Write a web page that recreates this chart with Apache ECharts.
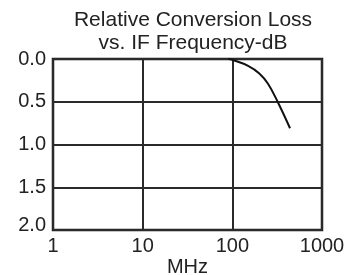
<!DOCTYPE html>
<html><head><meta charset="utf-8">
<script src="https://cdn.jsdelivr.net/npm/echarts@6/dist/echarts.min.js"></script>
<style>html,body{margin:0;padding:0;background:#fff}#c{width:348px;height:275px}</style>
</head><body><div id="c"></div>
<script>
const titleLines = ['Relative Conversion Loss', 'vs. IF Frequency-dB'];
const xTicks = [1, 10, 100, 1000];
const yTicks = [0.0, 0.5, 1.0, 1.5, 2.0];
const freqMHz = [90, 100, 150, 200, 250, 320, 440];
const lossDb = [0.0, 0.01, 0.08, 0.17, 0.29, 0.5, 0.81];
const xName = 'MHz';

const chart = echarts.init(document.getElementById('c'), null, {renderer: 'canvas'});
const font = 'Liberation Sans, Arial, Helvetica, sans-serif';
chart.setOption({
  animation: false,
  title: {
    text: titleLines.join('\n'),
    left: 188, top: 4, textAlign: 'center',
    textStyle: {fontFamily: font, fontSize: 21, fontWeight: 'normal', color: '#222', lineHeight: 23}
  },
  grid: {left: 53, top: 59, right: 26, bottom: 45, containLabel: false, outerBoundsMode: 'none',
    show: true, borderColor: '#1a1a1a', borderWidth: 2.5, backgroundColor: 'transparent'},
  xAxis: {
    type: 'log', logBase: 10, min: xTicks[0], max: xTicks[xTicks.length - 1],
    name: xName, nameLocation: 'middle', nameGap: 27, nameMoveOverlap: false,
    nameTextStyle: {fontFamily: font, fontSize: 20, color: '#222', verticalAlign: 'top'},
    axisLine: {show: false}, axisTick: {show: false},
    axisLabel: {fontFamily: font, fontSize: 20, color: '#222', margin: 6,
      formatter: v => String(Math.round(v))},
    splitLine: {show: true, lineStyle: {color: '#2a2a2a', width: 2}},
    minorSplitLine: {show: false}
  },
  yAxis: {
    type: 'value', inverse: true, min: yTicks[0], max: yTicks[yTicks.length - 1], interval: 0.5,
    axisLine: {show: false}, axisTick: {show: false},
    axisLabel: {fontFamily: font, fontSize: 20, color: '#222', margin: 7,
      formatter: v => v === yTicks[yTicks.length - 1] ? '{s|' + v.toFixed(1) + '}' : v.toFixed(1),
      rich: {s: {fontFamily: font, fontSize: 20, color: '#222', padding: [0, 0, 10, 0]}}},
    splitLine: {show: true, lineStyle: {color: '#2a2a2a', width: 2}}
  },
  series: [{
    type: 'line', smooth: 0.4, symbol: 'none',
    data: freqMHz.map((f, i) => [f, lossDb[i]]),
    lineStyle: {color: '#111', width: 2}
  }]
});
</script></body></html>
